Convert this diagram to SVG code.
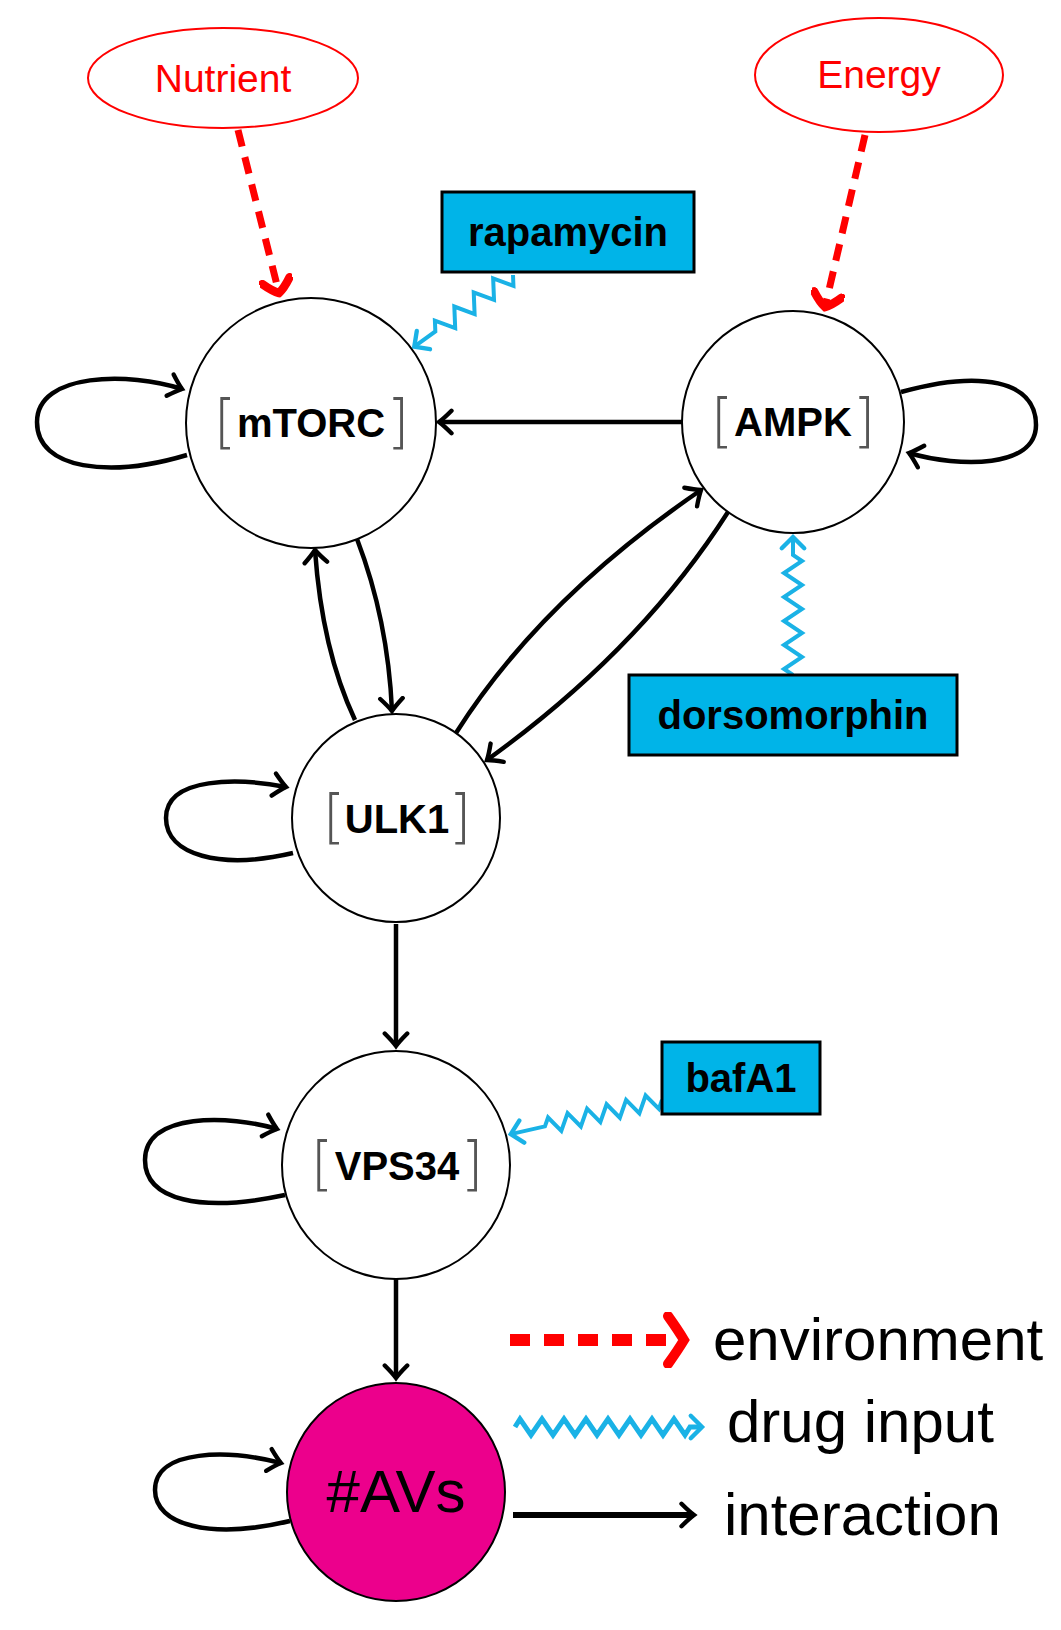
<svg xmlns="http://www.w3.org/2000/svg" width="1061" height="1630" viewBox="0 0 1061 1630">
<defs>
<marker id="ab" markerUnits="userSpaceOnUse" markerWidth="30" markerHeight="30" refX="12" refY="10" orient="auto" viewBox="0 0 24 20"><path d="M2,1 Q8,7 12,10 Q8,13 2,19" fill="none" stroke="#000" stroke-width="3.5" stroke-linecap="round"/></marker>
<marker id="ar" markerUnits="userSpaceOnUse" markerWidth="34" markerHeight="34" refX="12" refY="12" orient="auto" viewBox="0 0 24 24"><path d="M3,2 Q10,8 12,12 Q10,16 3,22" fill="none" stroke="#f00" stroke-width="6" stroke-linecap="round"/></marker>
<marker id="ar2" markerUnits="userSpaceOnUse" markerWidth="50" markerHeight="56" refX="18" refY="28" orient="auto" viewBox="0 0 50 56"><path d="M6,4 Q16,18 22,28 Q16,38 6,52" fill="none" stroke="#f00" stroke-width="10" stroke-linecap="round"/></marker>
<marker id="ac" markerUnits="userSpaceOnUse" markerWidth="30" markerHeight="30" refX="12" refY="10" orient="auto" viewBox="0 0 24 20"><path d="M3,1 Q9,7 12,10 Q9,13 3,19" fill="none" stroke="#1ab2e6" stroke-width="3.5" stroke-linecap="round"/></marker>
</defs>
<style>
.n{fill:#fff;stroke:#000;stroke-width:2}
.lb{font-family:"Liberation Sans",Arial,sans-serif;font-weight:bold;font-size:40px;text-anchor:middle;fill:#000}
.br{font-family:"DejaVu Sans",sans-serif;font-weight:200;font-size:58px;fill:#555;text-anchor:middle}
.env{fill:none;stroke:#f00;stroke-width:7;stroke-dasharray:17 11;marker-end:url(#ar)}
.drug{fill:none;stroke:#1ab2e6;stroke-width:4;stroke-linejoin:miter;marker-end:url(#ac)}
.int{fill:none;stroke:#000;stroke-width:4.5;marker-end:url(#ab)}
.box{fill:#00b4e8;stroke:#000;stroke-width:3}
.leg{font-family:"Liberation Sans",Arial,sans-serif;font-size:60px;fill:#000}
.red{font-family:"Liberation Sans",Arial,sans-serif;font-size:39px;fill:#f00;text-anchor:middle}
</style>
<g id="connectors">
<path class="env" d="M238,130 L279,293"/>
<path class="env" d="M865,135 L825,307"/>
<path class="int" d="M682,422 L439,422"/>
<path class="int" d="M357,539 Q388,620 392,711"/>
<path class="int" d="M355,720 Q322,650 315,550"/>
<path class="int" d="M456,733 Q540,600 701,490"/>
<path class="int" d="M728,512 Q640,650 487,760"/>
<path class="int" d="M396,924 L396,1046"/>
<path class="int" d="M396,1279 L396,1378"/>
<path class="int" d="M187,455 C110,478 37,470 37,422 C37,372 130,372 182,389"/>
<path class="int" d="M901,392 C980,370 1036,380 1036,425 C1036,468 960,468 909,453"/>
<path class="int" d="M293,853 C220,870 166,855 166,818 C166,776 240,778 286,787"/>
<path class="int" d="M285,1195 C200,1213 145,1200 145,1160 C145,1112 230,1115 277,1129"/>
<path class="int" d="M290,1521 C210,1540 155,1525 155,1490 C155,1448 230,1450 281,1463"/>
<path class="int" d="M513,1515 L694,1515" style="stroke-width:6"/>
<path d="M510,1340 L680,1340" fill="none" stroke="#f00" stroke-width="12" stroke-dasharray="20 14" marker-end="url(#ar2)"/>
<path class="drug" d="M0,0 l6,-9 l12,18 l12,-18 l12,18 l12,-18 l12,18 l12,-18 l12,18 l6,-9 l26,0" transform="translate(513,275) rotate(144)"/>
<path class="drug" d="M0,0 l6,-9 l12,18 l12,-18 l12,18 l12,-18 l12,18 l12,-18 l12,18 l12,-18 l12,18 l6,-9 l18,0" transform="translate(793,675) rotate(-90)"/>
<path class="drug" d="M0,0 l5,-8 l10,16 l10,-16 l10,16 l10,-16 l10,16 l10,-16 l10,16 l10,-16 l10,16 l10,-16 l10,16 l5,-8 l35,0" transform="translate(662,1100) rotate(167.3)"/>
<path class="drug" d="M0,0 l5,-8 l11,16 l11,-16 l11,16 l11,-16 l11,16 l11,-16 l11,16 l11,-16 l11,16 l11,-16 l11,16 l11,-16 l11,16 l11,-16 l11,16 l5,-8 l12,0" transform="translate(515,1427)" style="stroke-width:5"/>
</g>
<g id="Nutrient"><ellipse cx="223" cy="78" rx="135" ry="50" fill="#fff" stroke="#f00" stroke-width="2"/><text class="red" x="223" y="92">Nutrient</text></g>
<g id="Energy"><ellipse cx="879" cy="75" rx="124" ry="57" fill="#fff" stroke="#f00" stroke-width="2"/><text class="red" x="879" y="88">Energy</text></g>
<g id="rapamycin"><rect class="box" x="442" y="192" width="252" height="80"/><text class="lb" x="568" y="246">rapamycin</text></g>
<g id="dorsomorphin"><rect class="box" x="629" y="675" width="328" height="80"/><text class="lb" x="793" y="729">dorsomorphin</text></g>
<g id="bafA1"><rect class="box" x="662" y="1042" width="158" height="72"/><text class="lb" x="741" y="1092">bafA1</text></g>
<g id="mTORC"><circle class="n" cx="311" cy="423" r="125"/><text class="br" x="225" y="442">[</text><text class="br" x="398" y="442">]</text><text class="lb" x="311" y="437">mTORC</text></g>
<g id="AMPK"><circle class="n" cx="793" cy="422" r="111"/><text class="br" x="722" y="441">[</text><text class="br" x="864" y="441">]</text><text class="lb" x="793" y="436">AMPK</text></g>
<g id="ULK1"><circle class="n" cx="396" cy="818" r="104"/><text class="br" x="334" y="837">[</text><text class="br" x="460" y="837">]</text><text class="lb" x="397" y="833">ULK1</text></g>
<g id="VPS34"><circle class="n" cx="396" cy="1165" r="114"/><text class="br" x="322" y="1184">[</text><text class="br" x="472" y="1184">]</text><text class="lb" x="397" y="1180">VPS34</text></g>
<g id="AVs"><circle cx="396" cy="1492" r="109" fill="#ec008c" stroke="#000" stroke-width="2"/><text x="396" y="1512" font-family="Liberation Sans,Arial,sans-serif" font-size="60" text-anchor="middle">#AVs</text></g>
<g id="legend"><text class="leg" x="713" y="1360">environment</text><text class="leg" x="727" y="1442">drug input</text><text class="leg" x="724" y="1535">interaction</text></g>
</svg>
